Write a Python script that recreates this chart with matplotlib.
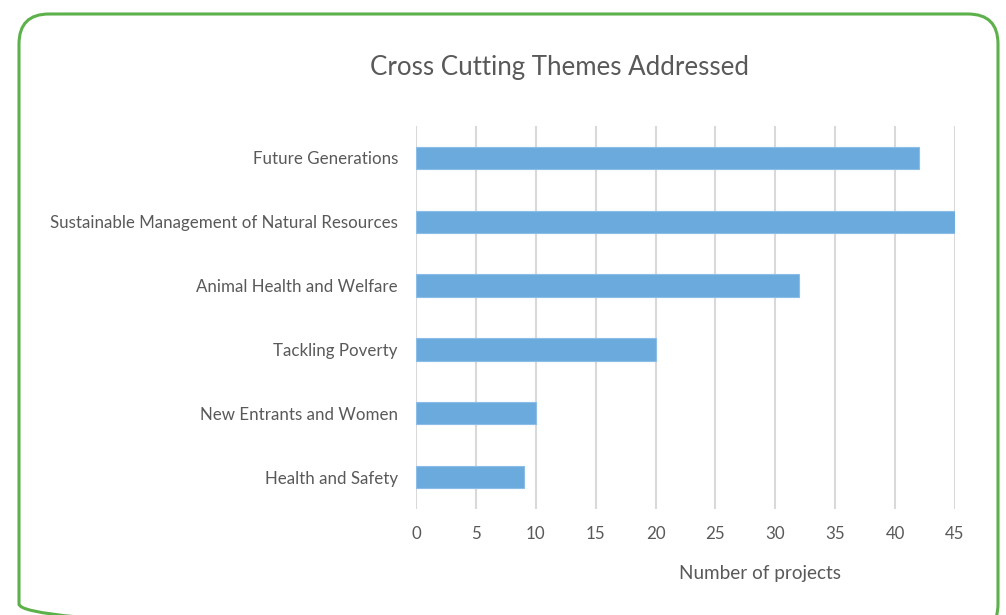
import matplotlib
matplotlib.use("Agg")
import matplotlib.pyplot as plt
from matplotlib.patches import FancyBboxPatch

themes = [
    "Future Generations",
    "Sustainable Management of Natural Resources",
    "Animal Health and Welfare",
    "Tackling Poverty",
    "New Entrants and Women",
    "Health and Safety",
]
projects = [42, 45, 32, 20, 10, 9]
x_ticks = [0, 5, 10, 15, 20, 25, 30, 35, 40, 45]

text_color = "#595959"
bar_color = "#6aaadd"
grid_color = "#d9d9d9"
border_color = "#5cb14a"

plt.rcParams["font.family"] = ["Lato", "DejaVu Sans"]

fig = plt.figure(figsize=(10.06, 6.15), dpi=100)

# background layer in pixel units for the rounded green frame
bg = fig.add_axes([0, 0, 1, 1])
bg.set_xlim(0, 1006)
bg.set_ylim(615, 0)
bg.axis("off")
frame = FancyBboxPatch((19, 14), 979, 620, boxstyle="round,pad=0,rounding_size=30",
                       fill=False, edgecolor=border_color, linewidth=2.2)
bg.add_patch(frame)

ax = fig.add_axes([416 / 1006, 106 / 615, 539 / 1006, 383 / 615])
ypos = list(range(len(themes)))
ax.barh(ypos, projects, height=0.35, color=bar_color, edgecolor="#8bbde6",
        linewidth=0.8, zorder=3)
ax.set_ylim(len(themes) - 0.5, -0.5)
ax.set_xlim(0, 45)
ax.set_xticks(x_ticks)
ax.set_yticks(ypos)
ax.set_yticklabels(themes)
ax.xaxis.grid(True, color=grid_color, linewidth=1.5, zorder=0)
ax.set_axisbelow(True)
for s in ax.spines.values():
    s.set_visible(False)
ax.tick_params(axis="both", length=0, colors=text_color, labelsize=12.2)
ax.tick_params(axis="x", pad=12)
ax.tick_params(axis="y", pad=13)

fig.text(559 / 1006, 1 - 68 / 615, "Cross Cutting Themes Addressed", ha="center",
         va="center", fontsize=18.6, color=text_color)
fig.text(760 / 1006, 1 - 574 / 615, "Number of projects", ha="center",
         va="center", fontsize=13.6, color=text_color)

fig.savefig("out.png", dpi=100)
